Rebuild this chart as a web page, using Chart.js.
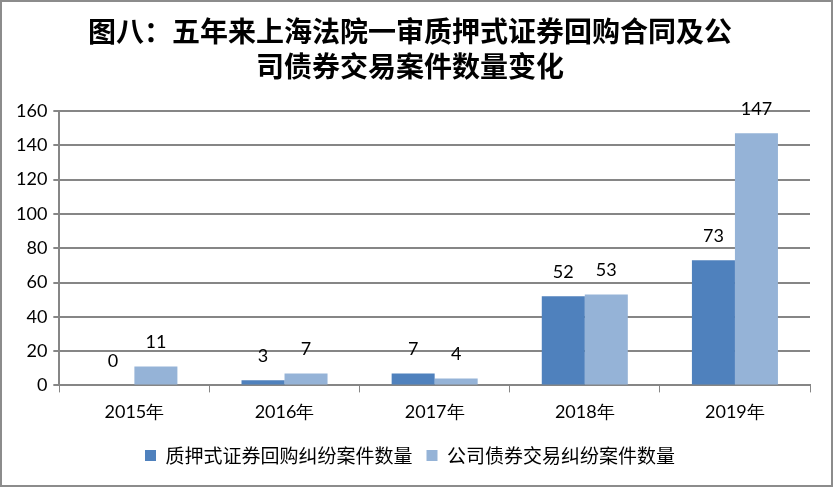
<!DOCTYPE html>
<html>
<head>
<meta charset="utf-8">
<script src="https://cdn.jsdelivr.net/npm/chart.js@4/dist/chart.umd.min.js"></script>
<style>
  html, body { margin: 0; padding: 0; background: #fff; }
  #wrap { width: 833px; height: 487px; box-sizing: border-box; border: 2px solid #8c8c8c; position: relative; }
</style>
</head>
<body>
<div id="wrap"><canvas id="chart"></canvas></div>
<script>
var years = ['2015年', '2016年', '2017年', '2018年', '2019年'];
var repoCases = [0, 3, 7, 52, 73];
var bondCases = [11, 7, 4, 53, 147];
var yTicks = [0, 20, 40, 60, 80, 100, 120, 140, 160];

var sans = "'Noto Sans CJK SC', 'Noto Sans', sans-serif";
var tickFont = "Lato, 'Noto Sans', sans-serif";

// numbers above each bar
var barLabels = {
  id: 'barLabels',
  afterDatasetsDraw: function (chart) {
    var ctx = chart.ctx;
    ctx.save();
    ctx.fillStyle = '#000';
    ctx.font = '18px ' + tickFont;
    ctx.textAlign = 'center';
    ctx.textBaseline = 'middle';
    chart.data.datasets.forEach(function (ds, i) {
      chart.getDatasetMeta(i).data.forEach(function (bar, j) {
        ctx.fillText(ds.data[j], bar.x, bar.y - 24);
      });
    });
    ctx.restore();
  }
};

var ctx = document.getElementById('chart').getContext('2d');
var myChart = new Chart(ctx, {
  type: 'bar',
  data: {
    labels: years,
    datasets: [{
      label: '质押式证券回购纠纷案件数量',
      backgroundColor: '#4f81bd',
      data: repoCases
    }, {
      label: '公司债券交易纠纷案件数量',
      backgroundColor: '#95b3d7',
      data: bondCases
    }]
  },
  options: {
    responsive: true,
    maintainAspectRatio: false,
    animation: false,
    datasets: { bar: { barPercentage: 1, categoryPercentage: 0.573 } },
    layout: { padding: { left: 8, right: 21, top: 8, bottom: 10 } },
    plugins: {
      title: {
        display: true,
        text: ['图八：五年来上海法院一审质押式证券回购合同及公', '司债券交易案件数量变化'],
        color: '#000',
        font: { family: sans, size: 28, weight: 'bold', lineHeight: 1.25 },
        padding: { top: 4, bottom: 27 }
      },
      legend: {
        position: 'bottom',
        labels: {
          color: '#000',
          font: { family: sans, size: 19 },
          boxWidth: 11,
          boxHeight: 11,
          padding: 14
        }
      },
      tooltip: { enabled: false }
    },
    scales: {
      x: {
        grid: { drawOnChartArea: false, color: '#868686', tickLength: 7, offset: true },
        border: { color: '#868686', width: 2 },
        ticks: { color: '#000', font: { family: tickFont, size: 18 }, padding: 9 }
      },
      y: {
        min: 0,
        max: 160,
        afterBuildTicks: function (axis) {
          axis.ticks = yTicks.map(function (v) { return { value: v }; });
        },
        grid: { color: '#868686', lineWidth: 2, tickLength: 6 },
        border: { color: '#868686', width: 2 },
        ticks: { color: '#000', font: { family: tickFont, size: 18 }, padding: 6 }
      }
    }
  },
  plugins: [barLabels]
});
</script>
</body>
</html>
